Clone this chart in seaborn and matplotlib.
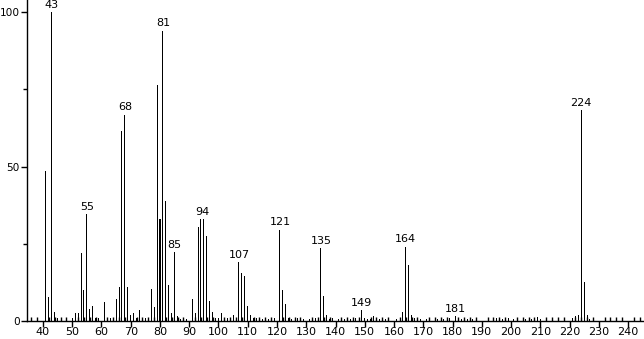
import matplotlib
matplotlib.use("Agg")
import matplotlib.pyplot as plt
from matplotlib.ticker import MultipleLocator
import seaborn as sns
import pandas as pd

mz = [41, 42, 43, 44, 45, 50, 51, 52, 53, 54, 55, 56, 57, 58, 59, 61, 62, 63, 64,
      65, 66, 67, 68, 69, 70, 71, 72, 73, 74, 75, 77, 78, 79, 80, 81, 82, 83, 84,
      85, 86, 87, 89, 91, 92, 93, 94, 95, 96, 97, 98, 99, 100, 101, 102, 103, 104,
      105, 106, 107, 108, 109, 110, 111, 112, 113, 115, 117, 119, 121, 122, 123,
      124, 125, 127, 128, 129, 131, 133, 135, 136, 137, 138, 139, 141, 143, 145,
      147, 149, 150, 151, 152, 153, 155, 157, 161, 163, 164, 165, 166, 167, 168,
      169, 171, 175, 177, 179, 181, 182, 183, 185, 187, 194, 195, 197, 199, 201,
      205, 207, 208, 209, 210, 221, 222, 223, 224, 225, 226, 227]
intensity = [48.5, 7.8, 100, 3, 1, 1, 2.5, 2.5, 22, 10, 34.5, 4, 5, 1, 1, 6, 1, 1, 1,
             7, 11, 61.5, 66.7, 11, 2, 2.5, 1, 3.5, 1, 1, 10.5, 4.5, 76.4, 33, 94,
             38.8, 11.5, 2.5, 22.3, 1.5, 0.6, 0.6, 7, 2.5, 30.5, 33, 33, 27.5, 6.5,
             3, 1, 1, 2.5, 1, 1, 1, 2, 1, 19, 15.5, 14.5, 5, 2, 1, 1, 0.8, 0.8, 1,
             29.5, 10, 5.5, 1, 0.8, 1, 0.7, 0.7, 0.7, 1, 23.5, 8, 2, 0.8, 1, 0.7,
             0.7, 0.7, 1, 3.5, 1, 0.7, 0.8, 1.5, 0.8, 0.7, 0.8, 3, 24, 18, 2, 1,
             0.8, 0.7, 0.7, 0.7, 0.7, 1, 1.5, 1, 0.8, 0.7, 0.6, 0.7, 1, 0.8, 1, 0.6,
             0.6, 0.8, 1, 1.2, 0.8, 1, 1.5, 2, 68.3, 12.5, 2, 0.6]

label_mz = [43, 55, 68, 81, 85, 94, 107, 121, 135, 149, 164, 181, 224]
label_text = ["43", "55", "68", "81", "85", "94", "107", "121", "135", "149", "164", "181", "224"]
label_pos = [43, 55, 68, 81, 85, 94.5, 107, 121, 135, 149, 164, 181, 224]

y_ticks = [0, 50, 100]

sns.set_style("white")
plt.rcParams["font.family"] = ["DejaVu Sans"]

df = pd.DataFrame({"mz": mz, "intensity": intensity})

fig = plt.figure(figsize=(6.44, 3.39), dpi=100)
ax = fig.add_axes([27 / 644, 18 / 339, 1 - 27 / 644, 1 - 18 / 339])

sns.barplot(data=df, x="mz", y="intensity", native_scale=True, color="black",
            width=0.35, linewidth=0, saturation=1, ax=ax, errorbar=None)

lookup = dict(zip(mz, intensity))
for m, t, p in zip(label_mz, label_text, label_pos):
    ax.text(p, lookup[m] + 0.8, t, ha="center", va="bottom", fontsize=8, color="black")

ax.set_xlim(34.53, 245.47)
ax.set_ylim(0, 103.9)
ax.xaxis.set_major_locator(MultipleLocator(10))
ax.xaxis.set_minor_locator(MultipleLocator(2))
ax.set_yticks(y_ticks)
ax.set_yticklabels([str(v) for v in y_ticks])
ax.yaxis.set_minor_locator(MultipleLocator(25))
ax.tick_params(axis="x", which="major", direction="out", length=4, width=1,
               labelsize=8, pad=0.5, colors="black")
ax.tick_params(axis="x", which="minor", direction="in", length=3, width=1, colors="black")
ax.tick_params(axis="y", which="major", direction="out", length=4.5, width=1,
               labelsize=7.6, pad=0.5, colors="black")
ax.tick_params(axis="y", which="minor", direction="out", length=3, width=1, colors="black")
ax.tick_params(bottom=True, left=True, which="both")
for s in ["top", "right"]:
    ax.spines[s].set_visible(False)
for s in ["left", "bottom"]:
    ax.spines[s].set_color("black")
    ax.spines[s].set_linewidth(1)
ax.set_xlabel("")
ax.set_ylabel("")
ax.set_facecolor("white")

fig.savefig("out.png", dpi=100)
